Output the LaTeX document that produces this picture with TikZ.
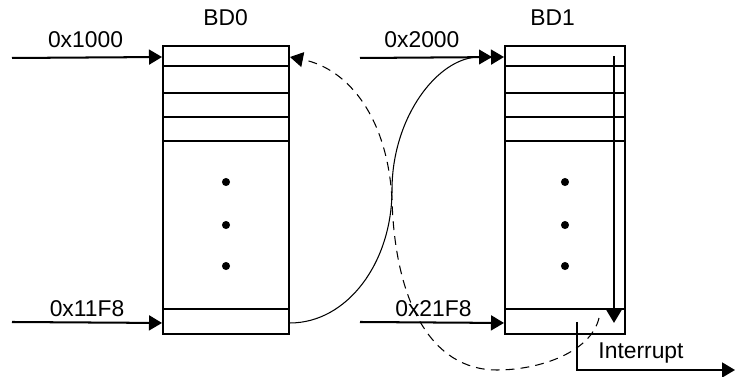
\documentclass[tikz,border=0pt]{standalone}
\usepackage{fontspec}
\setmainfont{Liberation Sans}
\usetikzlibrary{arrows.meta, calc}
\tikzset{every path/.style={line width=1.15pt}}
\tikzset{
  bdbox/.style={draw, inner sep=0pt, minimum height=5.76cm},
  tip/.style={-{Triangle[length=7.4pt,width=8.5pt]}},
  lbl/.style={anchor=base, inner sep=0pt, font=\fontsize{13}{15}\selectfont},
  link/.style={line width=0.6pt},
}

\begin{document}
\begin{tikzpicture}[x=0.02cm, y=-0.02cm]
    \useasboundingbox (0,0) rectangle (735,377);

    \node[bdbox, minimum width=2.52cm] (bd0) at (226,190) {};
    \node[bdbox, minimum width=2.4cm] (bd1) at (565,190) {};

    \node[lbl] (t0) at ($(bd0.north)+(-0.5,-20)$) {BD0};
    \node[lbl] (t1) at ($(bd1.north)+(-12.5,-20)$) {BD1};

    % rows and dots
    \foreach \b in {bd0,bd1} {
      \foreach \r in {21,48,72,96,264}
        \draw ($(\b.north west)+(0,\r)$) -- ($(\b.north east)+(0,\r)$);
      \foreach \r in {137,180,221}
        \fill ($(\b.north)+(0,\r)$) circle (2.3pt);
    }

    \coordinate (bd0in) at ($(bd0.north west)+(0,12)$);
    \coordinate (bd0last) at ($(bd0.south west)+(0,-12)$);
    \coordinate (bd0ret) at ($(bd0.north east)+(0,12)$);
    \coordinate (bd0out) at ($(bd0.south east)+(0,-12)$);
    \coordinate (bd1in) at ($(bd1.north west)+(0,12)$);
    \coordinate (bd1last) at ($(bd1.south west)+(0,-12)$);
    \coordinate (bd1near) at ($(bd1in)+(-12,0)$);
    \coordinate (scan0) at ($(bd1.north east)+(-12,11)$);
    \coordinate (scan1) at ($(bd1.south east)+(-12,-12)$);

    % addresses
    \draw[tip] (12,58) -- node[lbl, pos=.49, yshift=5.7pt] (a1000) {0x1000} (bd0in);
    \draw[tip] (12,322) -- node[lbl, pos=.5, yshift=3.4pt] (a11f8) {0x11F8} (bd0last);
    \draw[tip] (360,58) -- node[lbl, pos=.43, yshift=5.7pt] (a2000) {0x2000} (bd1in);
    \draw[tip] (360,322) -- node[lbl, pos=.51, yshift=3.4pt] (a21f8) {0x21F8} (bd1last);

    % BD0 -> BD1
    \coordinate (turn) at (392,190);
    \draw[link, tip] (bd0out) .. controls +(57,0) and +(0,73) .. (turn)
      .. controls +(0,-73) and +(-54,0) .. (bd1near);

    \draw[tip] (scan0) -- (scan1);

    % BD1 -> BD0
    \coordinate (irq0) at (599,318);
    \coordinate (low) at (497,370);
    \coordinate (mid) at (392,200);
    \draw[link, dash pattern=on 5pt off 3.5pt, tip] (irq0) .. controls +(-8,34) and +(43,0) .. (low)
      .. controls +(-67,0) and +(3,100) .. (mid)
      .. controls +(-4,-80) and +(60,12) .. (bd0ret);

    % interrupt
    \coordinate (irq) at (577,322);
    \coordinate (irqend) at (735,370);
    \draw[tip] (irq) |- (irqend);
    \node[lbl] (lirq) at (641,359) {Interrupt};
\end{tikzpicture}
\end{document}
